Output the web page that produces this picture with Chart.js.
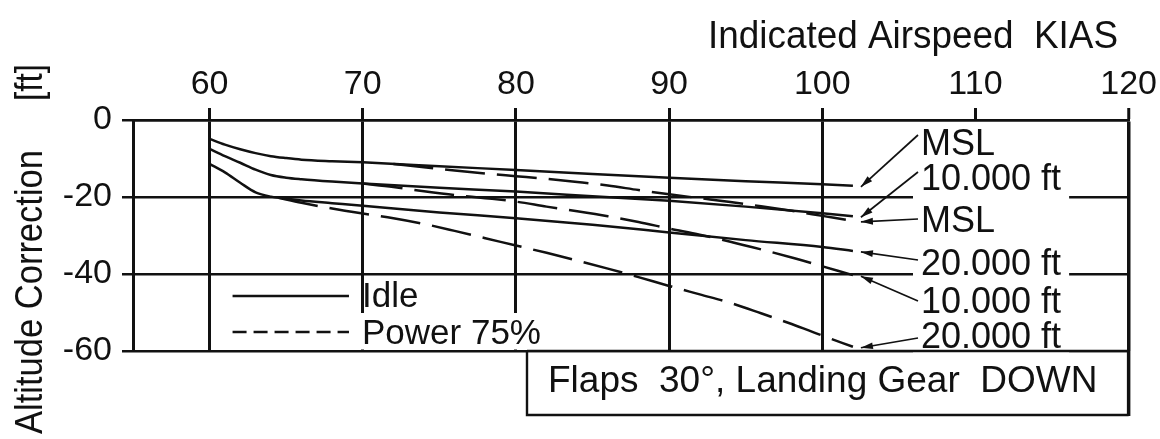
<!DOCTYPE html>
<html>
<head>
<meta charset="utf-8">
<title>Altitude Correction – Flaps 30°, Landing Gear DOWN</title>
<script src="https://cdn.jsdelivr.net/npm/chart.js@4.4.1/dist/chart.umd.min.js"></script>
<style>
  html, body { margin: 0; padding: 0; background: #ffffff; }
  #wrap { width: 1160px; height: 439px; }
</style>
</head>
<body>
<div id="wrap"><canvas id="chart" width="1160" height="439"></canvas></div>
<script>
// ---- axis ticks -------------------------------------------------------
const xTickValues = [60, 70, 80, 90, 100, 110, 120];
const yTickValues = [-60, -40, -20, 0];
const yTickLabels = ['-60', '-40', '-20', '0'];

// ---- Idle (solid) -----------------------------------------------------
const idleKias   = [60, 61, 62, 63, 64, 65, 66, 68, 70, 75, 80, 85, 90, 95, 100, 102];
const idleMsl    = [-4.9, -6.4, -7.6, -8.6, -9.4, -9.9, -10.3, -10.7, -11.0, -12.0, -13.0, -14.0, -15.0, -15.9, -16.7, -17.1];
const idle10000  = [-7.5, -9.4, -11.1, -12.9, -14.3, -15.0, -15.4, -16.0, -16.5, -17.6, -18.6, -19.8, -21.0, -22.5, -24.2, -25.0];
const idle20000  = [-11.4, -13.6, -16.3, -18.8, -19.9, -20.4, -20.9, -21.6, -22.3, -24.0, -25.5, -27.2, -29.2, -31.2, -33.0, -34.0];

// ---- Power 75% (dashed) -----------------------------------------------
const pwrMslKias   = [72, 74, 76, 78, 80, 82, 84, 86, 88, 90, 92, 94, 96, 98, 100, 102];
const pwrMsl       = [-11.4, -12.3, -13.1, -13.9, -14.6, -15.3, -16.1, -17.0, -18.2, -19.3, -20.3, -21.3, -22.4, -23.6, -24.9, -26.2];
const pwr10000Kias = [70, 72, 74, 76, 78, 80, 82, 84, 86, 88, 90, 92, 94, 96, 98, 100, 102];
const pwr10000     = [-16.5, -17.4, -18.5, -19.5, -20.3, -21.2, -22.5, -23.7, -25.0, -26.5, -28.2, -29.8, -31.6, -33.6, -35.7, -38.0, -40.3];
const pwr20000Kias = [64.5, 66, 68, 70, 72, 74, 76, 78, 80, 82, 84, 86, 88, 90, 92, 94, 96, 98, 100, 102];
const pwr20000     = [-20.2, -21.5, -23.0, -24.3, -25.5, -27.0, -28.8, -30.7, -32.6, -34.5, -36.5, -38.6, -40.8, -43.1, -45.3, -47.5, -50.2, -53.0, -56.0, -58.9];

// ---- texts ------------------------------------------------------------
const xTitle = 'Indicated Airspeed  KIAS';
const yTitleName = 'Altitude Correction';
const yTitleUnit = '[ft]';
const legendNames = ['Idle', 'Power 75%'];
const curveNames = ['MSL', '10.000 ft', 'MSL', '20.000 ft', '10.000 ft', '20.000 ft'];
const configNote = 'Flaps  30°, Landing Gear  DOWN';

const FONT = '"Liberation Sans", Arial, Helvetica, sans-serif';
const INK = '#111111';

const pts = (xs, ys) => xs.map((x, i) => ({ x: x, y: ys[i] }));

function series(label, xs, ys, dashed) {
  return {
    label: label,
    data: pts(xs, ys),
    borderColor: INK,
    borderWidth: 2.5,
    borderDash: dashed ? [40, 12] : [],
    pointRadius: 0,
    fill: false,
    cubicInterpolationMode: 'monotone'
  };
}

// datasets in the order of the labels on the right, top to bottom
const datasets = [
  series('Idle MSL', idleKias, idleMsl, false),
  series('Idle 10.000 ft', idleKias, idle10000, false),
  series('Power 75% MSL', pwrMslKias, pwrMsl, true),
  series('Idle 20.000 ft', idleKias, idle20000, false),
  series('Power 75% 10.000 ft', pwr10000Kias, pwr10000, true),
  series('Power 75% 20.000 ft', pwr20000Kias, pwr20000, true)
];

function arrow(ctx, x0, y0, x1, y1) {
  ctx.beginPath();
  ctx.moveTo(x0, y0);
  ctx.lineTo(x1, y1);
  ctx.stroke();
  const a = Math.atan2(y1 - y0, x1 - x0);
  const len = 12, half = 3.4;
  ctx.beginPath();
  ctx.moveTo(x1, y1);
  ctx.lineTo(x1 - len * Math.cos(a) + half * Math.sin(a), y1 - len * Math.sin(a) - half * Math.cos(a));
  ctx.lineTo(x1 - len * Math.cos(a) - half * Math.sin(a), y1 - len * Math.sin(a) + half * Math.cos(a));
  ctx.closePath();
  ctx.fill();
}

// vertical text, reading bottom to top, ending at (x, yEnd), squeezed to a length
function verticalText(ctx, text, x, yEnd, length) {
  const w = ctx.measureText(text).width;
  ctx.save();
  ctx.translate(x, yEnd);
  ctx.rotate(-Math.PI / 2);
  ctx.scale(length / w, 1);
  ctx.textAlign = 'right';
  ctx.fillText(text, 0, 0);
  ctx.restore();
}

const decorations = {
  id: 'decorations',
  afterDraw(chart) {
    const ctx = chart.ctx;
    const area = chart.chartArea;
    const xs = chart.scales.x;
    ctx.save();
    ctx.fillStyle = INK;
    ctx.strokeStyle = INK;

    // curve labels with arrows pointing to the end of each curve
    const labelLeft = 921;
    const baselines = [155, 190, 232, 275, 313, 348];
    const tailDy = [-20, -18, -13, -15, -12, -10];
    ctx.font = '36px ' + FONT;
    ctx.textAlign = 'left';
    ctx.textBaseline = 'alphabetic';
    curveNames.forEach((name, i) => {
      const w = ctx.measureText(name).width;
      ctx.fillStyle = '#ffffff';
      ctx.fillRect(labelLeft - 8, baselines[i] - 24, w + 16, 33);
    });
    curveNames.forEach((name, i) => {
      ctx.fillStyle = INK;
      ctx.fillText(name, labelLeft, baselines[i]);
      const meta = chart.getDatasetMeta(i);
      const last = meta.data[meta.data.length - 1];
      ctx.lineWidth = 1.7;
      arrow(ctx, labelLeft - 3, baselines[i] + tailDy[i], last.x + 8, last.y + 1);
    });

    // legend
    const lx0 = xs.getPixelForValue(61.5), lx1 = xs.getPixelForValue(69.1);
    ctx.lineWidth = 2.4;
    ctx.beginPath();
    ctx.moveTo(lx0, 296); ctx.lineTo(lx1, 296);
    ctx.stroke();
    ctx.fillStyle = '#ffffff';
    ctx.fillRect(355, 313, 200, area.bottom - 313 - 1.5);
    ctx.fillStyle = INK;
    ctx.setLineDash([14, 7]);
    ctx.beginPath();
    ctx.moveTo(lx0, 332); ctx.lineTo(lx1, 332);
    ctx.stroke();
    ctx.setLineDash([]);
    ctx.font = '35px ' + FONT;
    ctx.fillText(legendNames[0], 362, 307);
    ctx.fillText(legendNames[1], 362, 344);

    // configuration box below the plot
    const bx0 = 527, bx1 = area.right, by0 = area.bottom, by1 = 415;
    ctx.fillStyle = '#ffffff';
    ctx.fillRect(bx0, by0 + 1.5, bx1 - bx0, by1 - by0 - 1.5);
    ctx.fillStyle = INK;
    ctx.lineWidth = 2.4;
    ctx.beginPath();
    ctx.moveTo(bx0, by0); ctx.lineTo(bx1, by0);
    ctx.moveTo(bx0, by0); ctx.lineTo(bx0, by1); ctx.lineTo(bx1, by1);
    ctx.stroke();
    ctx.lineWidth = 3.5;
    ctx.beginPath();
    ctx.moveTo(bx1, by0); ctx.lineTo(bx1, by1 + 1);
    ctx.stroke();
    ctx.font = '37px ' + FONT;
    ctx.fillText(configNote, 548, 392);

    // axis titles
    ctx.font = '38px ' + FONT;
    const tw = ctx.measureText(xTitle).width;
    ctx.save();
    ctx.translate(1118, 48);
    ctx.scale(410 / tw, 1);
    ctx.textAlign = 'right';
    ctx.fillText(xTitle, 0, 0);
    ctx.restore();

    ctx.font = '38px ' + FONT;
    verticalText(ctx, yTitleUnit, 42, 64, 37);
    verticalText(ctx, yTitleName, 42, 150, 284);

    ctx.restore();
  }
};

new Chart(document.getElementById('chart'), {
  type: 'line',
  data: { datasets: datasets },
  options: {
    responsive: false,
    animation: false,
    devicePixelRatio: 1,
    layout: { padding: { top: 0, left: 0, right: 30, bottom: 88 } },
    plugins: { legend: { display: false }, tooltip: { enabled: false } },
    scales: {
      x: {
        type: 'linear',
        position: 'top',
        min: 55,
        max: 120,
        afterBuildTicks: s => { s.ticks = xTickValues.map(v => ({ value: v })); },
        afterFit: s => { s.height = 120; },
        grid: {
          color: c => (c.tick && c.tick.value === 110) ? 'rgba(0,0,0,0)' : INK,
          tickColor: INK,
          lineWidth: c => (c.tick && c.tick.value === 120) ? 3.5 : 3,
          tickWidth: 3,
          tickLength: 12
        },
        border: { display: true, color: INK, width: 2.5 },
        ticks: {
          color: INK,
          font: { family: FONT, size: 34 },
          padding: 3,
          maxRotation: 0,
          autoSkip: false,
          callback: v => String(v)
        }
      },
      y: {
        type: 'linear',
        min: -60,
        max: 0,
        afterBuildTicks: s => { s.ticks = yTickValues.map(v => ({ value: v })); },
        afterFit: s => { s.width = 133; },
        grid: { color: INK, lineWidth: 2.5, tickLength: 11 },
        border: { display: true, color: INK, width: 3 },
        ticks: {
          color: INK,
          font: { family: FONT, size: 34 },
          padding: 10,
          autoSkip: false,
          callback: (v, i) => yTickLabels[i]
        }
      }
    }
  },
  plugins: [decorations]
});
</script>
</body>
</html>
